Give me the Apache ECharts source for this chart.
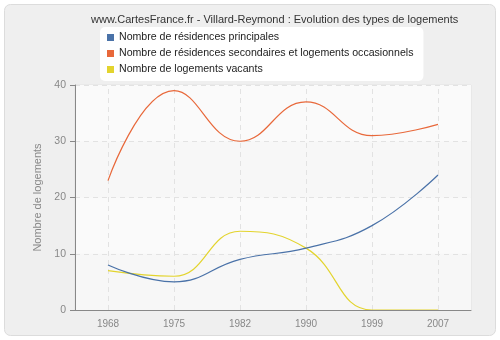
<!DOCTYPE html>
<html><head><meta charset="utf-8">
<script src="https://cdn.jsdelivr.net/npm/echarts@6/dist/echarts.min.js"></script>
<style>html,body{margin:0;padding:0;background:#fff}#c{width:500px;height:340px}</style>
</head><body><div id="c"></div>
<script>
var titleText = "www.CartesFrance.fr - Villard-Reymond : Evolution des types de logements";
var categories = ["1968", "1975", "1982", "1990", "1999", "2007"];
var seriesNames = ["Nombre de résidences principales", "Nombre de résidences secondaires et logements occasionnels", "Nombre de logements vacants"];
var principales = [8, 5, 9, 11, 15, 24];
var secondaires = [23, 39, 30, 37, 31, 33];
var vacants = [7, 6, 14, 11, 0, 0];
var colors = ["#4a72a8", "#e8683a", "#e3d42e"];
var yTicks = {min: 0, max: 40, interval: 10};

var chart = echarts.init(document.getElementById('c'), null, {renderer: 'canvas'});
var font = 'Liberation Sans, Arial, sans-serif';
function mk(name, data, color, z) {
  return {name: name, type: 'line', data: data, smooth: 0.45, symbol: 'none', z: z,
    lineStyle: {color: color, width: 1.2}, itemStyle: {color: color}, clip: true};
}
var vLines = {silent: true, symbol: 'none', label: {show: false},
  lineStyle: {color: '#e2e2e2', type: [5, 4], width: 1},
  data: categories.map(function (c) { return {xAxis: c}; })};
var s0 = mk(seriesNames[0], principales, colors[0], 3);
s0.markLine = vLines; s0.markLine.z = 1;
chart.setOption({
  backgroundColor: '#ffffff',
  animation: false,
  graphic: [{type: 'rect', z: -10, shape: {x: 4.5, y: 4.5, width: 491, height: 331, r: 6},
    style: {fill: '#efefef', stroke: '#dcdcdc', lineWidth: 1}}],
  title: {text: titleText, left: 86, top: 9,
    textStyle: {fontFamily: font, fontSize: 11, fontWeight: 'normal', color: '#333'}},
  legend: {orient: 'vertical', left: 100, top: 27, width: 325,
    backgroundColor: '#ffffff', borderRadius: 5, padding: [5, 10, 6, 7],
    itemWidth: 7, itemHeight: 7, itemGap: 5, icon: 'rect',
    textStyle: {fontFamily: font, fontSize: 10.6, color: '#222'},
    data: seriesNames},
  grid: {left: 75, right: 29, top: 85, bottom: 30, backgroundColor: '#f8f8f8', show: true, borderWidth: 1, borderColor: '#e2e2e2'},
  xAxis: {type: 'category', data: categories, boundaryGap: true, z: 5,
    axisLine: {lineStyle: {color: '#888', width: 1}},
    axisTick: {alignWithLabel: true, length: 5, lineStyle: {color: '#888'}},
    axisLabel: {color: '#888', fontFamily: font, fontSize: 10, margin: 9},
    splitLine: {show: false}},
  yAxis: {type: 'value', min: yTicks.min, max: yTicks.max, interval: yTicks.interval,
    name: 'Nombre de logements', nameLocation: 'middle', nameGap: 29,
    nameTextStyle: {color: '#888', fontFamily: font, fontSize: 11},
    axisLine: {show: true, lineStyle: {color: '#888'}},
    axisTick: {show: true, length: 5, lineStyle: {color: '#888'}},
    axisLabel: {color: '#888', fontFamily: font, fontSize: 10.5, margin: 9},
    splitLine: {lineStyle: {color: '#e2e2e2', type: [5, 4]}},
    splitArea: {show: true, areaStyle: {color: ['#f7f7f7', '#fafafa']}}},
  series: [s0,
           mk(seriesNames[1], secondaires, colors[1], 3),
           mk(seriesNames[2], vacants, colors[2], 2)]
});
</script></body></html>
